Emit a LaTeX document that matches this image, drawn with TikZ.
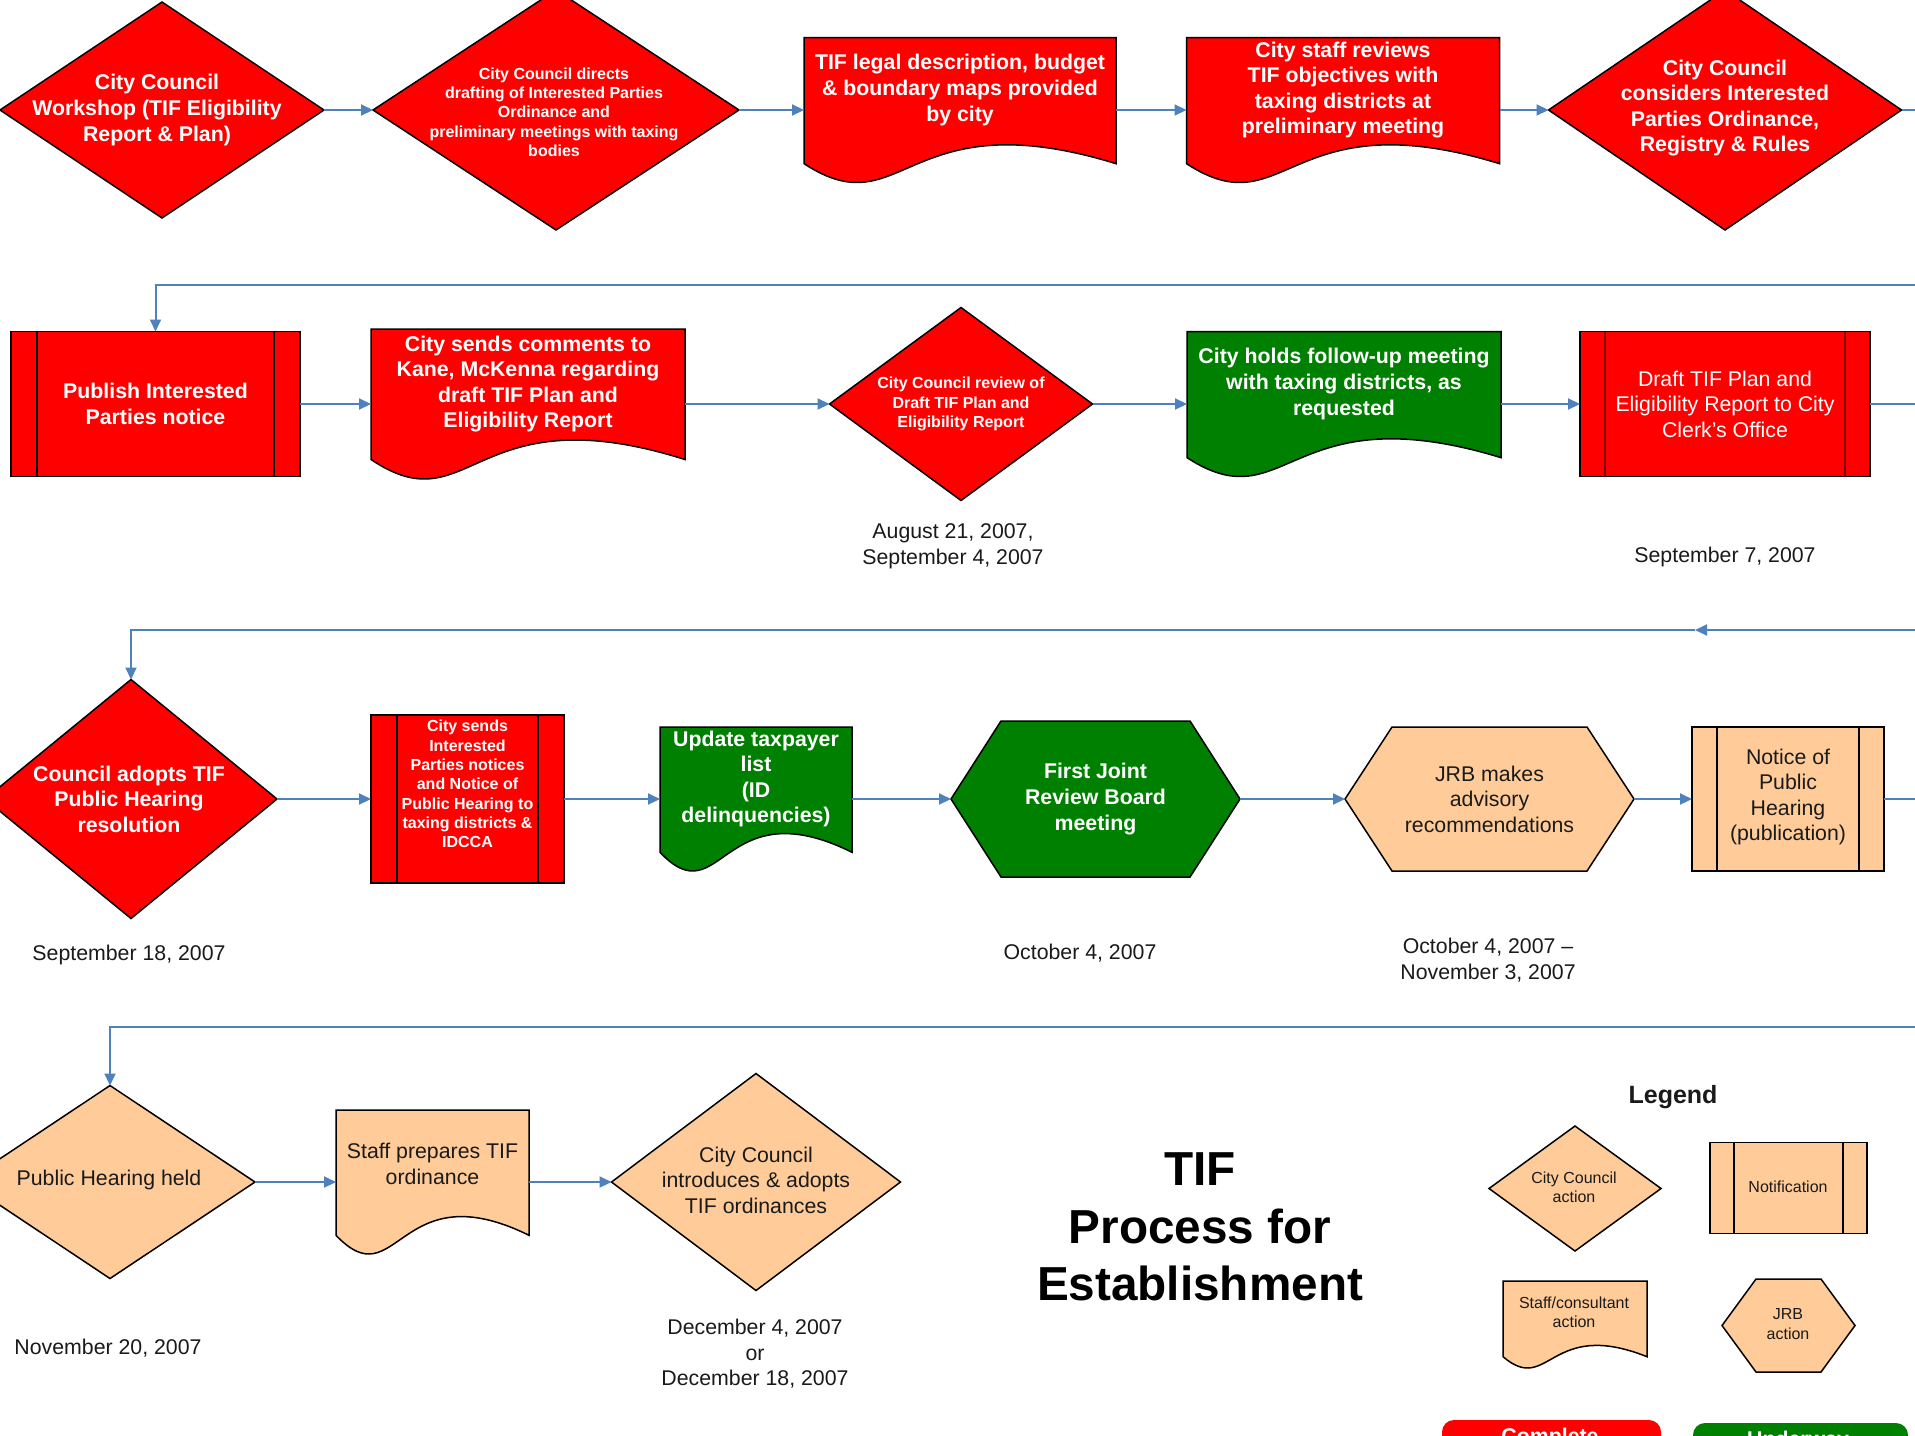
\documentclass[tikz,border=0pt]{standalone}
\usepackage{fontspec}
\setmainfont{Liberation Sans}
\usetikzlibrary{arrows.meta,calc}
\definecolor{cred}{RGB}{255,0,0}
\definecolor{cgreen}{RGB}{0,128,0}
\definecolor{cpeach}{RGB}{255,204,153}
\definecolor{cblue}{RGB}{79,129,189}
\definecolor{cdred}{RGB}{128,0,0}
\definecolor{ctext}{RGB}{26,26,26}
\tikzset{
 bb/.style 2 args={draw=none, inner sep=0pt, outer sep=0pt, minimum width=#1*0.5pt, minimum height=#2*0.5pt},
 outline/.style={draw=black, line width=0.75pt, line join=miter},
 conn/.style={draw=cblue, line width=1pt, -{Triangle[length=6pt,width=5.5pt]}},
 plainline/.style={draw=cblue, line width=1pt},
 wbig/.style={text=white, font=\fontsize{10.65}{12.8}\selectfont\bfseries, align=center, inner sep=0pt},
 wsmall/.style={text=white, font=\fontsize{8}{9.65}\selectfont\bfseries, align=center, inner sep=0pt},
 wreg/.style={text=white, font=\fontsize{10.65}{12.8}\selectfont, align=center, inner sep=0pt},
 dbig/.style={text=ctext, font=\fontsize{10.65}{12.8}\selectfont, align=center, inner sep=0pt},
 dsmall/.style={text=ctext, font=\fontsize{8}{9.65}\selectfont, align=center, inner sep=0pt},
 titletxt/.style={text=black, font=\fontsize{23.85}{28.75}\selectfont\bfseries, align=center, inner sep=0pt},
 legtitle/.style={text=ctext, font=\fontsize{12.5}{15}\selectfont\bfseries, inner sep=0pt},
 pill/.style={rounded corners=6pt, draw=none},
}
\newcommand\tifdia[6]{\node[bb={#4}{#5}] (#1) at (#2,#3) {};
 \draw[outline, fill=#6] (#1.west) -- (#1.north) -- (#1.east) -- (#1.south) -- cycle;}
\newcommand\tifdoc[6]{\node[bb={#4}{#5}] (#1) at (#2,#3) {};
 \draw[outline, fill=#6] ({#2-#4/2},{#3-#5/2}) -- ({#2+#4/2},{#3-#5/2}) -- ({#2+#4/2},{#3+0.37*#5})
  .. controls ({#2-0.18*#4},{#3+0.37*#5-0.45*#5}) and ({#2-0.18*#4},{#3+0.37*#5+0.45*#5}) .. ({#2-#4/2},{#3+0.37*#5}) -- cycle;}
\newcommand\tifhex[7]{\node[bb={#4}{#5}] (#1) at (#2,#3) {};
 \draw[outline, fill=#7] (#1.west) -- ({#2-#4/2+#6},{#3-#5/2}) -- ({#2+#4/2-#6},{#3-#5/2}) -- (#1.east)
  -- ({#2+#4/2-#6},{#3+#5/2}) -- ({#2-#4/2+#6},{#3+#5/2}) -- cycle;}
\newcommand\tifnote[8]{\node[bb={#4}{#5}] (#1) at (#2,#3) {};
 \draw[outline, fill=#7] (#1.north west) rectangle (#1.south east);
 \draw[line width=0.75pt, draw=#8] ({#2-#4/2+#6},{#3-#5/2}) -- ({#2-#4/2+#6},{#3+#5/2})
  ({#2+#4/2-#6},{#3-#5/2}) -- ({#2+#4/2-#6},{#3+#5/2});}
\begin{document}
\begin{tikzpicture}[x=0.5pt,y=-0.5pt]
\useasboundingbox (0,0) rectangle (1915,1435);
\clip (0,0) rectangle (1915,1435);
\fill[white] (0,0) rectangle (1915,1435);
% ---------- row 1
\tifdia{d1}{162}{110}{324}{216}{cred}
\tifdia{d2}{556}{110}{366}{240}{cred}
\tifdoc{doc1}{960}{110}{312}{145}{cred}
\tifdoc{doc2}{1343}{110}{313}{145}{cred}
\tifdia{d3}{1725}{110}{353}{240}{cred}
\node[wbig] (d1t) at (157,110) {City Council\\Workshop (TIF Eligibility\\Report \& Plan)};
\node[wsmall] (d2t) at (554,112) {City Council directs\\drafting of Interested Parties\\Ordinance and\\preliminary meetings with taxing\\bodies};
\node[wbig] (doc1t) at (960,90) {TIF legal description, budget\\\& boundary maps provided\\by city};
\node[wbig] (doc2t) at (1343,90) {City staff reviews\\TIF objectives with\\taxing districts at\\preliminary meeting};
\node[wbig] (d3t) at (1725,108) {City Council\\considers Interested\\Parties Ordinance,\\Registry \& Rules};
% ---------- row 2
\tifnote{n1}{155.5}{404}{289}{145}{26}{cred}{black}
\tifdoc{doc3}{528}{404}{314}{150}{cred}
\tifdia{d4}{961}{404}{263}{193}{cred}
\tifdoc{doc4}{1344}{404}{314}{145}{cgreen}
\tifnote{n2}{1725}{404}{290}{145}{25}{cred}{cdred}
\node[wbig] (n1t) at (155.5,404) {Publish Interested\\Parties notice};
\node[wbig] (doc3t) at (528,384) {City sends comments to\\Kane, McKenna regarding\\draft TIF Plan and\\Eligibility Report};
\node[wsmall] (d4t) at (961,404) {City Council review of\\Draft TIF Plan and\\Eligibility Report};
\node[wbig] (doc4t) at (1344,384) {City holds follow-up meeting\\with taxing districts, as\\requested};
\node[wreg] (n2t) at (1725,404) {Draft TIF Plan and\\Eligibility Report to City\\Clerk’s Office};
\node[dbig] (dt1) at (953,546) {August 21, 2007,\\September 4, 2007};
\node[dbig] (dt2) at (1725,557) {September 7, 2007};
% ---------- row 3
\tifdia{d5}{131}{799}{292}{239}{cred}
\tifnote{n3}{467.5}{799}{193}{168}{26}{cred}{black}
\tifdoc{doc5}{756}{799}{192}{144}{cgreen}
\tifhex{h1}{1095.5}{799}{289}{156}{50}{cgreen}
\tifhex{h2}{1489.5}{799}{289}{144}{47}{cpeach}
\tifnote{n4}{1788}{799}{192}{144}{25}{cpeach}{black}
\node[wbig] (d5t) at (129,799) {Council adopts TIF\\Public Hearing\\resolution};
\node[wsmall] (n3t) at (467.5,784) {City sends\\Interested\\Parties notices\\and Notice of\\Public Hearing to\\taxing districts \&\\IDCCA};
\node[wbig] (doc5t) at (756,779) {Update taxpayer\\list\\(ID\\delinquencies)};
\node[wbig] (h1t) at (1095.5,799) {First Joint\\Review Board\\meeting};
\node[dbig] (h2t) at (1489.5,799) {JRB makes\\advisory\\recommendations};
\node[dbig] (n4t) at (1788,797) {Notice of\\Public\\Hearing\\(publication)};
\node[dbig] (dt3) at (129,955) {September 18, 2007};
\node[dbig] (dt4) at (1080,953) {October 4, 2007};
\node[dbig] (dt5) at (1488,960) {October 4, 2007 –\\November 3, 2007};
% ---------- row 4
\tifdia{d6}{110}{1182}{290}{193}{cpeach}
\tifdoc{doc6}{432.5}{1182}{193}{144}{cpeach}
\tifdia{d7}{756}{1182}{289}{217}{cpeach}
\node[dbig] (d6t) at (109,1180) {Public Hearing held};
\node[dbig] (doc6t) at (432.5,1164) {Staff prepares TIF\\ordinance};
\node[dbig] (d7t) at (756,1180) {City Council\\introduces \& adopts\\TIF ordinances};
\node[dbig] (dt6) at (108,1348) {November 20, 2007};
\node[dbig] (dt7) at (755,1354) {December 4, 2007\\or\\December 18, 2007};
% ---------- title & legend
\node[titletxt] (title) at (1200,1227) {TIF\\Process for\\Establishment};
\node[legtitle] (legt) at (1673,1097) {Legend};
\tifdia{ld}{1575}{1188.5}{172}{125}{cpeach}
\tifnote{ln}{1788.5}{1188}{157}{91}{24}{cpeach}{black}
\tifdoc{ldoc}{1575}{1324.5}{144}{87}{cpeach}
\tifhex{lh}{1788.5}{1325.5}{133}{93}{34}{cpeach}
\node[dsmall] (ldt) at (1574,1187) {City Council\\action};
\node[dsmall] (lnt) at (1788,1187) {Notification};
\node[dsmall] (ldoct) at (1574,1312) {Staff/consultant\\action};
\node[dsmall] (lht) at (1788,1324) {JRB\\action};
\fill[pill, cred] (1442,1420) rectangle (1661,1480);
\fill[pill, cgreen] (1693,1423) rectangle (1908,1480);
\node[wbig] (pc) at (1550,1438) {Complete};
\node[wbig] (pu) at (1798,1441) {Underway};
% ---------- connectors
\coordinate (e1) at (1920,110);
\coordinate (e2) at (1920,404);
\coordinate (e3) at (1920,799);
\coordinate (r2) at (1920,285);
\coordinate (r3) at (1920,630);
\coordinate (r3m) at (1695,630);
\coordinate (r4) at (1920,1027);
\draw[conn] (d1.east) -- (d2.west);
\draw[conn] (d2.east) -- (doc1.west);
\draw[conn] (doc1.east) -- (doc2.west);
\draw[conn] (doc2.east) -- (d3.west);
\draw[plainline] (d3.east) -- (e1);
\draw[conn] (r2) -| (n1.north);
\draw[conn] (n1.east) -- (doc3.west);
\draw[conn] (doc3.east) -- (d4.west);
\draw[conn] (d4.east) -- (doc4.west);
\draw[conn] (doc4.east) -- (n2.west);
\draw[plainline] (n2.east) -- (e2);
\draw[conn] (r3) -- (r3m);
\draw[conn] (r3m) -| (d5.north);
\draw[conn] (d5.east) -- (n3.west);
\draw[conn] (n3.east) -- (doc5.west);
\draw[conn] (doc5.east) -- (h1.west);
\draw[conn] (h1.east) -- (h2.west);
\draw[conn] (h2.east) -- (n4.west);
\draw[plainline] (n4.east) -- (e3);
\draw[conn] (r4) -| (d6.north);
\draw[conn] (d6.east) -- (doc6.west);
\draw[conn] (doc6.east) -- (d7.west);
\end{tikzpicture}
\end{document}
